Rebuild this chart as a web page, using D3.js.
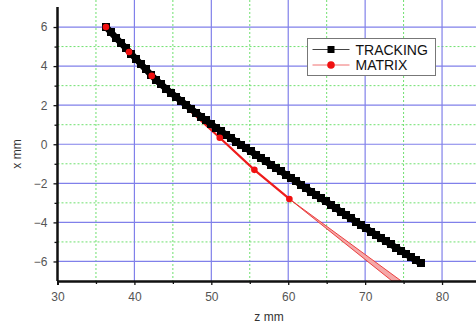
<!DOCTYPE html>
<html>
<head>
<meta charset="utf-8">
<script src="https://cdn.jsdelivr.net/npm/d3@7"></script>
<style>
  html, body { margin: 0; padding: 0; background: #fff; }
  svg { display: block; font-family: "Liberation Sans", Arial, sans-serif; }
</style>
</head>
<body>
<svg width="476" height="327"></svg>
<script>
// tracking series (z mm, x mm)
const trackZ = [36.3, 36.95, 37.6, 38.25, 38.9, 39.55, 40.2, 40.85, 41.5, 42.15,
  42.8, 43.45, 44.1, 44.75, 45.4, 46.05, 46.7, 47.35, 48.0, 48.65,
  49.3, 49.95, 50.6, 51.25, 51.9, 52.55, 53.2, 53.85, 54.5, 55.15,
  55.8, 56.45, 57.1, 57.75, 58.4, 59.05, 59.7, 60.35, 61.0, 61.65,
  62.3, 62.95, 63.6, 64.25, 64.9, 65.55, 66.2, 66.85, 67.5, 68.15,
  68.8, 69.45, 70.1, 70.75, 71.4, 72.05, 72.7, 73.35, 74.0, 74.65,
  75.3, 75.95, 76.6, 77.25];
const trackX = [6.0, 5.73, 5.45, 5.18, 4.91, 4.64, 4.37, 4.10, 3.83, 3.56,
  3.30, 3.07, 2.85, 2.64, 2.43, 2.22, 2.02, 1.82, 1.62, 1.42,
  1.22, 1.03, 0.85, 0.67, 0.49, 0.31, 0.14, -0.03, -0.20, -0.37,
  -0.54, -0.71, -0.88, -1.05, -1.22, -1.39, -1.56, -1.73, -1.90, -2.07,
  -2.25, -2.42, -2.59, -2.76, -2.93, -3.10, -3.28, -3.45, -3.62, -3.79,
  -3.96, -4.13, -4.30, -4.47, -4.63, -4.80, -4.96, -5.13, -5.29, -5.45,
  -5.62, -5.78, -5.94, -6.10];

// matrix series
const matrixZ = [36.3, 39.3, 42.25, 51.1, 55.6, 60.15];
const matrixX = [6.0, 4.72, 3.5, 0.33, -1.31, -2.8];
// matrix spread beyond last point (two edges)
const spreadZ = [60.15, 73.5, 74.7];
const spreadX = [-2.8, -7.0, -7.0];

const xMajor = [30, 40, 50, 60, 70, 80];
const xMinor = [35, 45, 55, 65, 75, 85];
const yMajor = [-6, -4, -2, 0, 2, 4, 6];
const yMinor = [-5, -3, -1, 1, 3, 5];

const svg = d3.select("svg");
const x = d3.scaleLinear().domain([30, 85]).range([57.5, 480.5]);
const y = d3.scaleLinear().domain([-7, 7]).range([281, 7.5]);

const grid = svg.append("g");
// minor grid, green dashed
grid.selectAll(".vmin").data(xMinor).enter().append("line")
  .attr("x1", d => x(d)).attr("x2", d => x(d)).attr("y1", 0).attr("y2", y(-7))
  .attr("stroke", "#6ee06e").attr("stroke-width", 1).attr("stroke-dasharray", "2,2");
grid.selectAll(".hmin").data(yMinor).enter().append("line")
  .attr("x1", x(30)).attr("x2", 476).attr("y1", d => y(d)).attr("y2", d => y(d))
  .attr("stroke", "#6ee06e").attr("stroke-width", 1).attr("stroke-dasharray", "2,2");
// major grid, blue
grid.selectAll(".vmaj").data(xMajor.slice(1)).enter().append("line")
  .attr("x1", d => x(d)).attr("x2", d => x(d)).attr("y1", 0).attr("y2", y(-7))
  .attr("stroke", "#8080ea").attr("stroke-width", 1.2);
grid.selectAll(".hmaj").data(yMajor).enter().append("line")
  .attr("x1", x(30)).attr("x2", 476).attr("y1", d => y(d)).attr("y2", d => y(d))
  .attr("stroke", "#8080ea").attr("stroke-width", 1.2);

// clip to plot
svg.append("clipPath").attr("id", "clip").append("rect")
  .attr("x", x(30)).attr("y", 0).attr("width", 476 - x(30)).attr("height", y(-7));
const plot = svg.append("g").attr("clip-path", "url(#clip)");

// matrix spread wedge
plot.append("path")
  .attr("d", `M${x(spreadZ[0])},${y(spreadX[0])}L${x(spreadZ[1])},${y(spreadX[1])}L${x(spreadZ[2])},${y(spreadX[2])}Z`)
  .attr("fill", "#f5a8a8").attr("stroke", "#e83030").attr("stroke-width", 0.9);

const line = d3.line().x(d => x(d[0])).y(d => y(d[1]));
const matrixPts = matrixZ.map((z, i) => [z, matrixX[i]]);
plot.append("path").datum(matrixPts).attr("d", line)
  .attr("fill", "none").attr("stroke", "#ee1c1c").attr("stroke-width", 2.2);

// tracking squares, dense enough to form a band
const trackPts = trackZ.map((z, i) => [z, trackX[i]]);
plot.append("path").datum(trackPts).attr("d", line)
  .attr("fill", "none").attr("stroke", "#000").attr("stroke-width", 6.5);
plot.selectAll(".sq").data(trackPts).enter().append("rect")
  .attr("x", d => x(d[0]) - 4).attr("y", d => y(d[1]) - 4)
  .attr("width", 8).attr("height", 8).attr("fill", "#000")
  .attr("shape-rendering", "crispEdges");

// matrix dots on top
plot.selectAll(".dot").data(matrixPts).enter().append("circle")
  .attr("cx", d => x(d[0])).attr("cy", d => y(d[1])).attr("r", 3.3)
  .attr("fill", "#f01010");

// axes
const axisColor = "#111";
const yAx = svg.append("g").attr("transform", `translate(${x(30)},0)`)
  .call(d3.axisLeft(y).tickValues(yMajor).tickSize(4).tickPadding(6)
    .tickFormat(d => d < 0 ? "\u2212" + Math.abs(d) : d));
yAx.append("g").call(d3.axisLeft(y).tickValues(yMinor).tickSize(3).tickFormat(""));
const xAx = svg.append("g").attr("transform", `translate(0,${y(-7)})`)
  .call(d3.axisBottom(x).tickValues(xMajor).tickSize(4).tickPadding(7));
xAx.append("g").call(d3.axisBottom(x).tickValues(xMinor).tickSize(3).tickFormat(""));
[yAx, xAx].forEach(a => {
  a.selectAll(".domain").attr("stroke", axisColor).attr("stroke-width", 2);
  a.selectAll(".tick line").attr("stroke", axisColor).attr("stroke-width", 1.3);
  a.selectAll("text").attr("fill", "#555").style("font-size", "12px");
});
yAx.selectAll(".domain").attr("d", `M0,${y(7) - 0.5}V${y(-7)}`);

// axis titles
svg.append("text").attr("transform", `translate(21,154) rotate(-90)`)
  .attr("text-anchor", "middle").attr("fill", "#333").style("font-size", "12px").text("x mm");
svg.append("text").attr("x", 269).attr("y", 321)
  .attr("text-anchor", "middle").attr("fill", "#333").style("font-size", "12px").text("z mm");

// legend
const lg = svg.append("g").attr("transform", "translate(307.5,38.5)");
lg.append("rect").attr("width", 128).attr("height", 37)
  .attr("fill", "#fff").attr("stroke", "#777").attr("stroke-width", 1);
const legendItems = [
  { name: "TRACKING", color: "#444", mark: "square" },
  { name: "MATRIX", color: "#f07070", mark: "circle" }
];
legendItems.forEach((d, i) => {
  const cy = 11 + i * 15.5;
  lg.append("line").attr("x1", 5).attr("x2", 42).attr("y1", cy).attr("y2", cy)
    .attr("stroke", d.color).attr("stroke-width", 1);
  if (d.mark === "square") {
    lg.append("rect").attr("x", 20).attr("y", cy - 3.5).attr("width", 7).attr("height", 7).attr("fill", "#000");
  } else {
    lg.append("circle").attr("cx", 23.5).attr("cy", cy).attr("r", 3.8).attr("fill", "#f01010");
  }
  lg.append("text").attr("x", 48).attr("y", cy + 5).attr("fill", "#111")
    .style("font-size", "14px").text(d.name);
});
</script>
</body>
</html>
